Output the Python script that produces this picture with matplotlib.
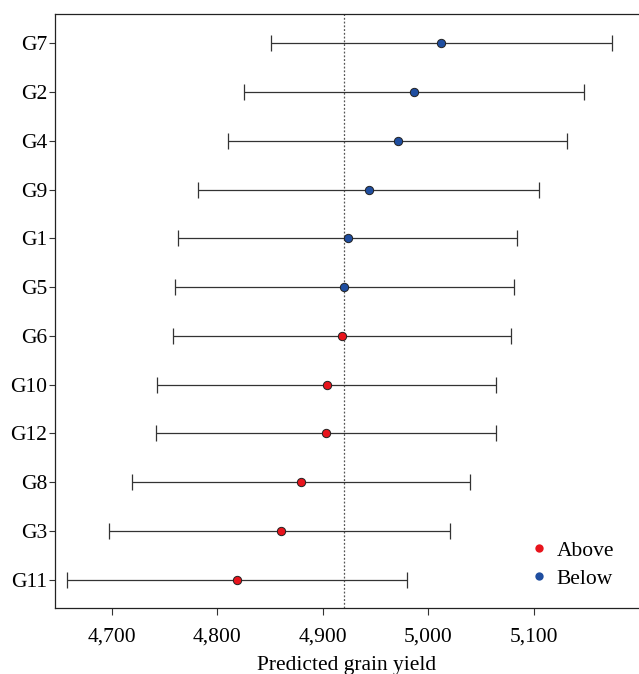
import matplotlib.pyplot as plt
from matplotlib.ticker import FuncFormatter
from matplotlib.lines import Line2D

plt.rcParams['font.family'] = ['Liberation Serif', 'DejaVu Serif']

# genotypes, top to bottom
genotypes = ["G7", "G2", "G4", "G9", "G1", "G5", "G6", "G10", "G12", "G8", "G3", "G11"]
yield_pred = [5012, 4987, 4971, 4944, 4924, 4920, 4918, 4904, 4903, 4879, 4860, 4819]
lower = [4851, 4825, 4810, 4782, 4763, 4760, 4758, 4743, 4742, 4719, 4697, 4657]
upper = [5174, 5148, 5132, 5105, 5084, 5081, 5079, 5064, 5064, 5040, 5021, 4980]
group = ["Below"] * 6 + ["Above"] * 6
mean_yield = 4920

colors = {"Above": "#e8141c", "Below": "#1f4ea0"}

fig = plt.figure(figsize=(6.39, 6.74), dpi=100)
ax = fig.add_axes([0.086, 0.098, 0.914, 0.881])

ypos = list(range(len(genotypes)))[::-1]

for y, m, lo, hi, g in zip(ypos, yield_pred, lower, upper, group):
    ax.errorbar(m, y, xerr=[[m - lo], [hi - m]], fmt="none", ecolor="#333333",
                elinewidth=0.9, capsize=5.5, capthick=0.9, zorder=2)
    ax.plot(m, y, "o", ms=6, mfc=colors[g], mec="#222222", mew=0.7, zorder=3)

ax.axvline(mean_yield, color="#555555", ls=(0, (1.5, 1.5)), lw=0.9, zorder=1)

ax.set_yticks(ypos)
ax.set_yticklabels(genotypes)
ax.set_xticks([4700, 4800, 4900, 5000, 5100])
ax.xaxis.set_major_formatter(FuncFormatter(lambda v, p: f"{int(v):,}"))
ax.set_xlim(4646, 5200)
ax.set_ylim(-0.58, 11.6)

ax.tick_params(labelsize=15.5, width=0.8, color="#333333")
ax.tick_params(axis="y", length=4.5, pad=1)
ax.tick_params(axis="x", length=5, pad=9)
ax.set_xlabel("Predicted grain yield", fontsize=15.5, labelpad=7)

for s in ["left", "bottom", "top"]:
    ax.spines[s].set_linewidth(0.9)
    ax.spines[s].set_color("#222222")
ax.spines["right"].set_visible(False)

handles = [Line2D([], [], ls="none", marker="o", ms=6, mfc=colors[k], mec="none", label=k)
           for k in ["Above", "Below"]]
ax.legend(handles=handles, loc="lower right", frameon=False, fontsize=15.5,
          handlelength=0.8, handletextpad=0.4, labelspacing=0.35,
          bbox_to_anchor=(0.99, 0.0))

fig.savefig("out.png", dpi=100)
